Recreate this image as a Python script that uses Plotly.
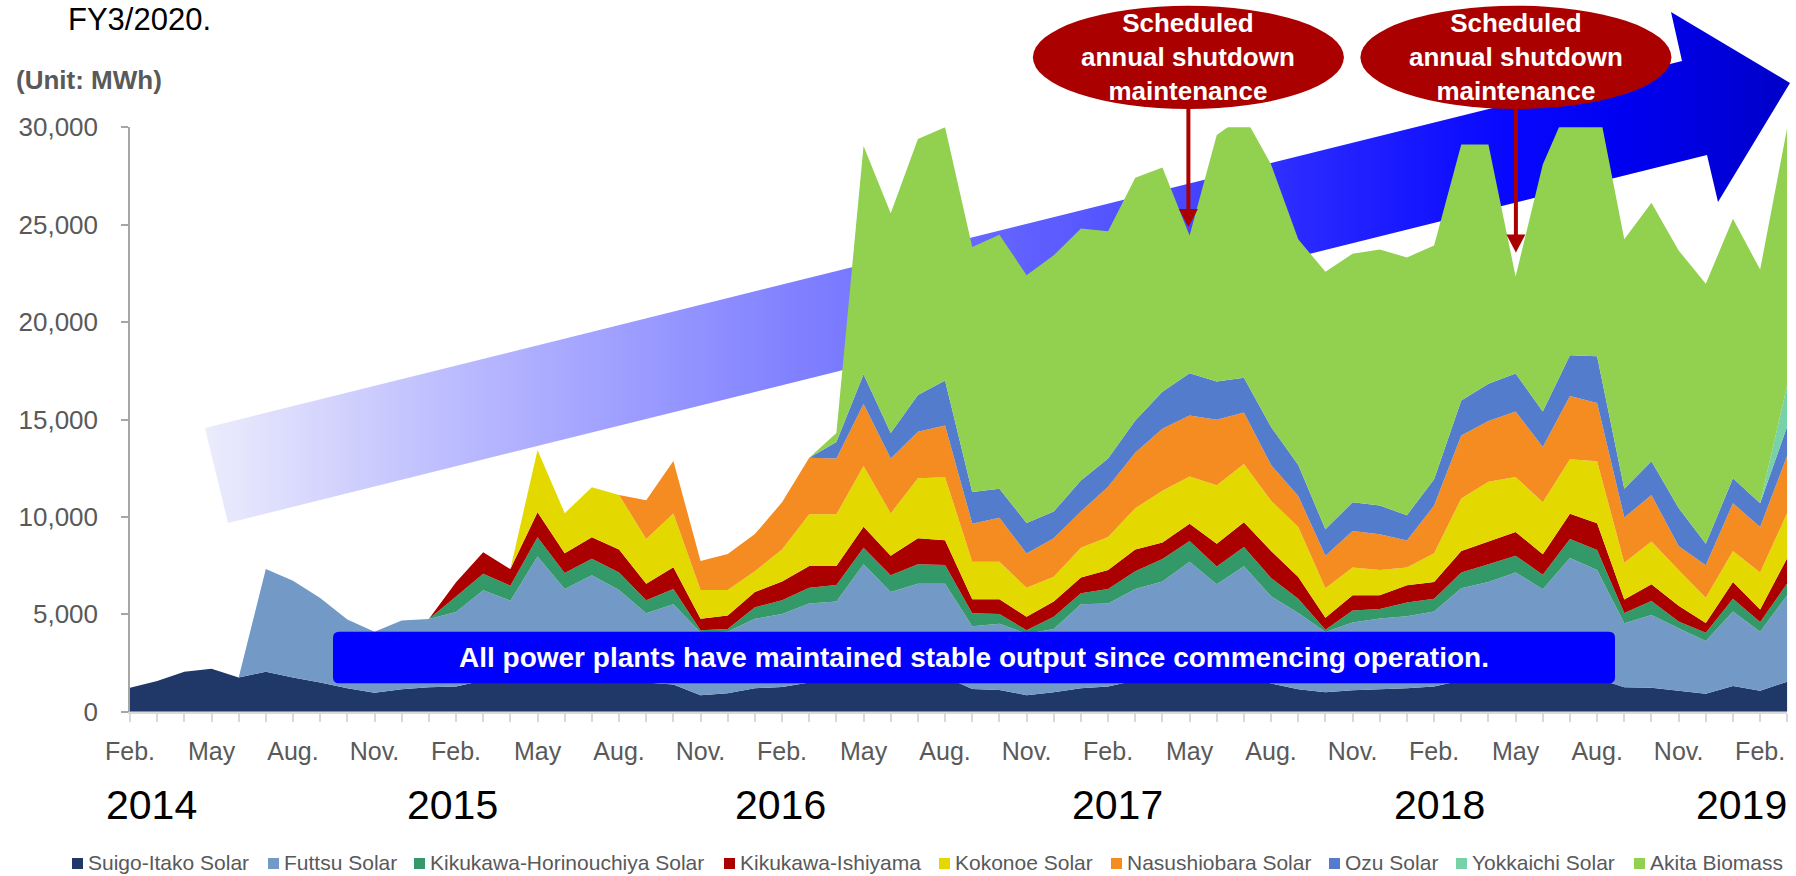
import plotly.graph_objects as go
import pandas as pd

W, H = 1796, 876
FONT = "Liberation Sans, Arial, sans-serif"
GRAY = "#595959"

# ---------------- data ----------------
months = pd.date_range("2014-02-01", "2019-03-01", freq="MS")
categories = [m.strftime("%Y-%m") for m in months]
MONTH_TICKS = {2: "Feb.", 5: "May", 8: "Aug.", 11: "Nov."}
tick_text = [MONTH_TICKS.get(m.month, "") for m in months]
year_labels = ["2014", "2015", "2016", "2017", "2018", "2019"]

suigo_itako = [1230, 1580, 2050, 2210, 1760, 2050, 1750, 1500, 1200, 970, 1150, 1250,
               1300, 1600, 2000, 2200, 1700, 2000, 1800, 1500, 1400, 850, 950, 1200,
               1270, 1500, 1800, 2100, 1700, 1900, 1800, 1170, 1120, 850, 1000, 1200,
               1300, 1600, 1900, 2100, 1700, 1900, 1450, 1150, 1000, 1100, 1150, 1200,
               1300, 1600, 1900, 2000, 1700, 2000, 1700, 1250, 1230, 1080, 920, 1320,
               1080, 1540]
futtsu = [0, 0, 0, 0, 0, 5270, 4970, 4340, 3530, 3130, 3530, 3510,
          3820, 4630, 3700, 5770, 4600, 5010, 4450, 3550, 4110, 3220, 3150, 3570,
          3750, 4050, 3860, 5470, 4450, 4670, 4770, 3220, 3400, 3150, 3240, 4310,
          4250, 4700, 4780, 5600, 4840, 5570, 4480, 3920, 3090, 3480, 3630, 3700,
          3840, 4740, 4760, 5150, 4590, 5890, 5570, 3290, 3740, 3200, 2710, 3820,
          3030, 4450]
horinouchiya = [0, 0, 0, 0, 0, 0, 0, 0, 0, 0, 0, 0,
                800, 850, 770, 990, 820, 840, 890, 670, 790, 110, 150, 590,
                700, 810, 850, 850, 850, 1000, 960, 660, 500, 180, 640, 570,
                750, 910, 1160, 1060, 910, 980, 930, 730, 120, 610, 490, 710,
                660, 810, 910, 860, 740, 980, 1030, 530, 710, 350, 420, 660,
                490, 600]
ishiyama = [0, 0, 0, 0, 0, 0, 0, 0, 0, 0, 0, 0,
            720, 1110, 850, 1280, 1020, 1110, 1190, 850, 1120, 590, 690, 790,
            960, 1120, 970, 1080, 1010, 1330, 1270, 720, 750, 700, 780, 810,
            970, 1120, 850, 890, 1170, 1270, 1390, 1110, 610, 790, 710, 880,
            860, 1100, 1170, 1220, 1050, 1290, 1370, 690, 860, 810, 500, 860,
            650, 1300]
kokonoe = [0, 0, 0, 0, 0, 0, 0, 0, 0, 0, 0, 0,
           0, 0, 0, 3190, 2050, 2560, 2800, 2290, 2760, 1480, 1310, 1060,
           1650, 2650, 2650, 3110, 2170, 3080, 3240, 1930, 1930, 1480, 1270, 1530,
           1700, 2120, 2650, 2430, 3010, 2990, 2580, 2570, 1520, 1420, 1290, 910,
           1470, 2700, 3060, 2820, 2670, 2800, 3190, 1880, 2200, 1830, 1300, 1590,
           1900, 2320]
nasushiobara = [0, 0, 0, 0, 0, 0, 0, 0, 0, 0, 0, 0,
                0, 0, 0, 0, 0, 0, 0, 1990, 2690, 1490, 1850, 1910,
                2420, 2910, 2870, 3180, 2820, 2390, 2650, 1950, 2260, 1760, 1970, 1860,
                2580, 2840, 3180, 3120, 3360, 2650, 1830, 1590, 1670, 1880, 1840, 1390,
                2450, 3230, 3120, 3360, 2840, 3250, 2990, 2330, 2380, 1230, 1670, 2450,
                2330, 2940]
ozu = [0, 0, 0, 0, 0, 0, 0, 0, 0, 0, 0, 0,
       0, 0, 0, 0, 0, 0, 0, 0, 0, 0, 0, 0,
       0, 0, 840, 1530, 1310, 1890, 2310, 1630, 1490, 1570, 1380, 1590,
       1450, 1660, 1910, 2180, 1960, 1780, 1960, 1590, 1350, 1470, 1470, 1300,
       1350, 1790, 1910, 1950, 1820, 2090, 2400, 1470, 1740, 1960, 1100, 1280,
       1220, 1520]
yokkaichi = [0] * 61 + [2130]
akita = [0, 0, 0, 0, 0, 0, 0, 0, 0, 0, 0, 0,
         0, 0, 0, 0, 0, 0, 0, 0, 0, 0, 0, 0,
         0, 0, 470, 11720, 11280, 13140, 13000, 12570, 13040, 12720, 13150, 12930,
         11660, 12460, 11510, 7060, 12650, 13460, 13470, 11590, 13220, 12760, 13150, 13230,
         12000, 13150, 12290, 4980, 12680, 13000, 13150, 12810, 13270, 13220, 13350, 13320,
         12000, 13200]

series_names = ["Suigo-Itako Solar", "Futtsu Solar", "Kikukawa-Horinouchiya Solar",
                "Kikukawa-Ishiyama", "Kokonoe Solar", "Nasushiobara Solar",
                "Ozu Solar", "Yokkaichi Solar", "Akita Biomass"]
series_values = [suigo_itako, futtsu, horinouchiya, ishiyama, kokonoe,
                 nasushiobara, ozu, yokkaichi, akita]
series_colors = ["#1f3868", "#739ac6", "#349968", "#aa0000", "#e3d900",
                 "#f48c22", "#537ccc", "#78d2a9", "#92d050"]

# ---------------- layout constants (pixels) ----------------
PX_L, PX_R = 130, 1787.3      # x of first / last month
PX_B, PX_T = 711.7, 127.3     # y of 0 / 30,000

fig = go.Figure()

# decorative gradient arrow (pixel overlay axes, drawn under the data)
arrow_x = [205, 1682, 1671, 1790, 1718, 1707, 228, 205]
arrow_y = [428, 61, 12, 83, 202, 155, 523, 428]
fig.add_trace(go.Scatter(
    x=arrow_x, y=arrow_y, mode="none", fill="toself",
    fillcolor="rgb(90,90,255)",
    fillgradient=dict(type="horizontal", colorscale=[
        [0.0, "rgb(236,236,252)"], [0.155, "rgb(188,188,255)"],
        [0.25, "rgb(162,162,255)"], [0.375, "rgb(128,128,255)"],
        [0.6, "rgb(78,78,255)"], [0.69, "rgb(42,42,255)"],
        [0.82, "rgb(8,8,255)"], [0.9, "rgb(0,0,240)"], [1.0, "rgb(0,0,200)"]]),
    hoverinfo="skip", showlegend=False, xaxis="x", yaxis="y"))

for name, vals, col in zip(series_names, series_values, series_colors):
    fig.add_trace(go.Scatter(
        x=categories, y=vals, name=name, stackgroup="one", mode="none",
        fillcolor=col, line=dict(width=0), xaxis="x2", yaxis="y2"))

fig.update_layout(
    template="none",
    width=W, height=H, autosize=False,
    margin=dict(l=0, r=0, t=0, b=0, pad=0, autoexpand=False),
    paper_bgcolor="white", plot_bgcolor="rgba(0,0,0,0)",
    showlegend=False, hovermode=False,
    xaxis=dict(domain=[0, 1], range=[0, W], visible=False, fixedrange=True,
               automargin=False),
    yaxis=dict(domain=[0, 1], range=[H, 0], visible=False, fixedrange=True,
               automargin=False),
    xaxis2=dict(domain=[PX_L / W, PX_R / W], anchor="y2", type="category",
                categoryorder="array", categoryarray=categories,
                range=[0, len(categories) - 1], automargin=False,
                tickmode="array", tickvals=categories, ticktext=tick_text,
                ticks="outside", ticklen=8, tickwidth=2, tickcolor="#d9d9d9",
                showline=True, linecolor="#d9d9d9", linewidth=2,
                showgrid=False, zeroline=False, ticklabelstandoff=8,
                tickfont=dict(family=FONT, size=25, color=GRAY), fixedrange=True),
    yaxis2=dict(domain=[(H - PX_B) / H, (H - PX_T) / H], anchor="x2",
                range=[0, 30000], tickmode="array", automargin=False,
                tickvals=[0, 5000, 10000, 15000, 20000, 25000, 30000],
                tickformat=",", ticks="outside", ticklen=7, tickwidth=1.5,
                tickcolor="#a6a6a6", showline=True, linecolor="#a6a6a6",
                linewidth=1.5, showgrid=False, zeroline=False,
                ticklabelstandoff=18,
                tickfont=dict(family=FONT, size=26, color=GRAY), fixedrange=True),
)

shapes = []
annotations = []

# blue message box
bx0, bx1, by0, by1, r = 333, 1615, 631.7, 683.3, 6
box_path = (f"M{bx0 + r},{by0} L{bx1 - r},{by0} Q{bx1},{by0} {bx1},{by0 + r} "
            f"L{bx1},{by1 - r} Q{bx1},{by1} {bx1 - r},{by1} L{bx0 + r},{by1} "
            f"Q{bx0},{by1} {bx0},{by1 - r} L{bx0},{by0 + r} Q{bx0},{by0} {bx0 + r},{by0} Z")
shapes.append(dict(type="path", path=box_path, xref="x", yref="y",
                   fillcolor="#0000ff", line=dict(width=0), layer="above"))
annotations.append(dict(
    x=(bx0 + bx1) / 2, y=(by0 + by1) / 2, xref="x", yref="y",
    text="All power plants have maintained stable output since commencing operation.",
    showarrow=False, xanchor="center", yanchor="middle",
    font=dict(family=FONT, size=28, color="white", weight="bold")))

# maintenance callouts
RED = "#ab0000"
for cx, tip in [(1188.4, 227), (1515.9, 252.5)]:
    shapes.append(dict(type="circle", xref="x", yref="y", x0=cx - 155.5, x1=cx + 155.5,
                       y0=5.7, y1=109, fillcolor=RED, line=dict(width=0), layer="above"))
    shapes.append(dict(type="line", xref="x", yref="y", x0=cx, x1=cx, y0=108,
                       y1=tip - 16, line=dict(color=RED, width=4), layer="above"))
    shapes.append(dict(type="path", xref="x", yref="y",
                       path=f"M{cx - 9.5},{tip - 18} L{cx + 9.5},{tip - 18} L{cx},{tip} Z",
                       fillcolor=RED, line=dict(width=0), layer="above"))
    annotations.append(dict(
        x=cx, y=57.4, xref="x", yref="y",
        text="Scheduled<br>annual shutdown<br>maintenance", showarrow=False,
        xanchor="center", yanchor="middle", align="center",
        font=dict(family=FONT, size=26, color="white", weight="bold")))

# titles
annotations.append(dict(x=66, y=19.5, xref="x", yref="y", text="FY3/2020.",
                        showarrow=False, xanchor="left", yanchor="middle",
                        font=dict(family=FONT, size=31, color="black")))
annotations.append(dict(x=14, y=80, xref="x", yref="y", text="(Unit: MWh)",
                        showarrow=False, xanchor="left", yanchor="middle",
                        font=dict(family=FONT, size=26, color=GRAY, weight="bold")))

# year labels
year_x = [151.5, 452.4, 780.7, 1117.3, 1439.6, 1741.9]
for yl, xx in zip(year_labels, year_x):
    annotations.append(dict(x=xx, y=805, xref="x", yref="y", text=yl, showarrow=False,
                            xanchor="center", yanchor="middle",
                            font=dict(family=FONT, size=41, color="black")))

# legend
legend_x = [72, 268, 414, 724, 939, 1111, 1329, 1456, 1634]
for name, col, lx in zip(series_names, series_colors, legend_x):
    shapes.append(dict(type="rect", xref="x", yref="y", x0=lx, x1=lx + 11,
                       y0=858, y1=869, fillcolor=col, line=dict(width=0),
                       layer="above"))
    annotations.append(dict(x=lx + 14, y=862.5, xref="x", yref="y", text=name,
                            showarrow=False, xanchor="left", yanchor="middle",
                            font=dict(family=FONT, size=21, color=GRAY)))

fig.update_layout(shapes=shapes, annotations=annotations)

fig.write_html("out.html", config={"displayModeBar": False, "responsive": False},
               post_script="document.body.style.margin='0';document.body.style.overflow='hidden';")
